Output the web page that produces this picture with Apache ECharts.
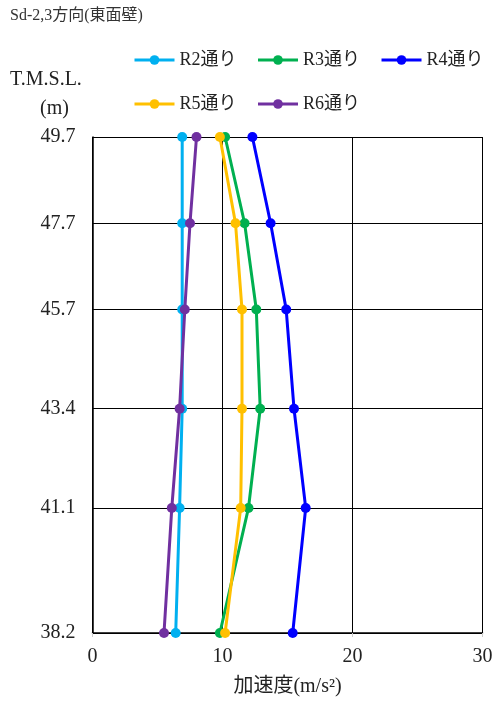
<!DOCTYPE html>
<html><head><meta charset="utf-8">
<script src="https://cdn.jsdelivr.net/npm/echarts@6/dist/echarts.min.js"></script>
<style>html,body{margin:0;padding:0;background:#fff}#c{width:496px;height:702px}</style>
</head><body><div id="c"></div>
<script>
const levels = [49.7, 47.7, 45.7, 43.4, 41.1, 38.2];
const yTicks = [38.2, 41.1, 43.4, 45.7, 47.7, 49.7];
const seriesNames = ['R2通り', 'R3通り', 'R4通り', 'R5通り', 'R6通り'];
const r2 = [6.9, 6.9, 6.9, 6.9, 6.7, 6.4];
const r3 = [10.2, 11.7, 12.6, 12.9, 12.0, 9.8];
const r4 = [12.3, 13.7, 14.9, 15.5, 16.4, 15.4];
const r5 = [9.8, 11.0, 11.5, 11.5, 11.4, 10.2];
const r6 = [8.0, 7.5, 7.1, 6.7, 6.1, 5.5];
const colors = ['#00B0F0', '#00B050', '#0000FF', '#FFC000', '#7030A0'];
const values = [r2, r3, r4, r5, r6];

const FONT = '"Liberation Serif", "Noto Sans CJK JP", serif';
const chart = echarts.init(document.getElementById('c'), null, {renderer: 'canvas'});
const series = values.map((v, i) => ({
  name: seriesNames[i],
  type: 'line',
  data: v.map((x, j) => [x, levels[j]]),
  color: colors[i],
  lineStyle: {width: 3, color: colors[i]},
  itemStyle: {color: colors[i]},
  symbol: 'circle',
  symbolSize: 10,
  clip: false,
  z: 3
}));
const legendCommon = {
  itemWidth: 40, itemHeight: 12, itemGap: 20,
  lineStyle: {width: 3},
  textStyle: {fontFamily: FONT, fontSize: 18, color: '#222'},
  padding: 0
};
chart.setOption({
  animation: false,
  title: {
    text: 'Sd-2,3方向(東面壁)', left: 10, top: 8, padding: 0,
    textStyle: {fontFamily: FONT, fontSize: 16, fontWeight: 'normal', color: '#333'}
  },
  legend: [
    Object.assign({}, legendCommon, {data: seriesNames.slice(0, 3), left: 133, top: 51}),
    Object.assign({}, legendCommon, {data: seriesNames.slice(3), left: 133, top: 95})
  ],
  graphic: [
    {type: 'text', left: 10, top: 70, style: {text: 'T.M.S.L.', font: '20px ' + FONT, fill: '#222'}},
    {type: 'text', left: 40, top: 99, style: {text: '(m)', font: '20px ' + FONT, fill: '#222'}}
  ],
  grid: {left: 92.5, right: 13.5, top: 137, bottom: 67, containLabel: false},
  xAxis: {
    type: 'value', min: 0, max: 30, interval: 10,
    name: '加速度(m/s²)', nameLocation: 'middle', nameGap: 44,
    nameTextStyle: {fontFamily: FONT, fontSize: 20, color: '#222'},
    axisLine: {show: true, lineStyle: {color: '#000', width: 1.5}},
    axisTick: {show: true, length: 4, lineStyle: {color: '#ccc'}},
    axisLabel: {fontFamily: FONT, fontSize: 20, color: '#222', margin: 14},
    splitLine: {show: true, lineStyle: {color: '#000', width: 1}}
  },
  yAxis: {
    type: 'value', min: 38.2, max: 49.7,
    axisLine: {show: true, lineStyle: {color: '#000', width: 1.5}},
    axisTick: {show: false, customValues: yTicks},
    axisLabel: {customValues: yTicks, fontFamily: FONT, fontSize: 20, color: '#222', margin: 17,
      formatter: v => v.toFixed(1)},
    splitLine: {show: true, lineStyle: {color: '#000', width: 1}}
  },
  series: series
});
</script></body></html>
